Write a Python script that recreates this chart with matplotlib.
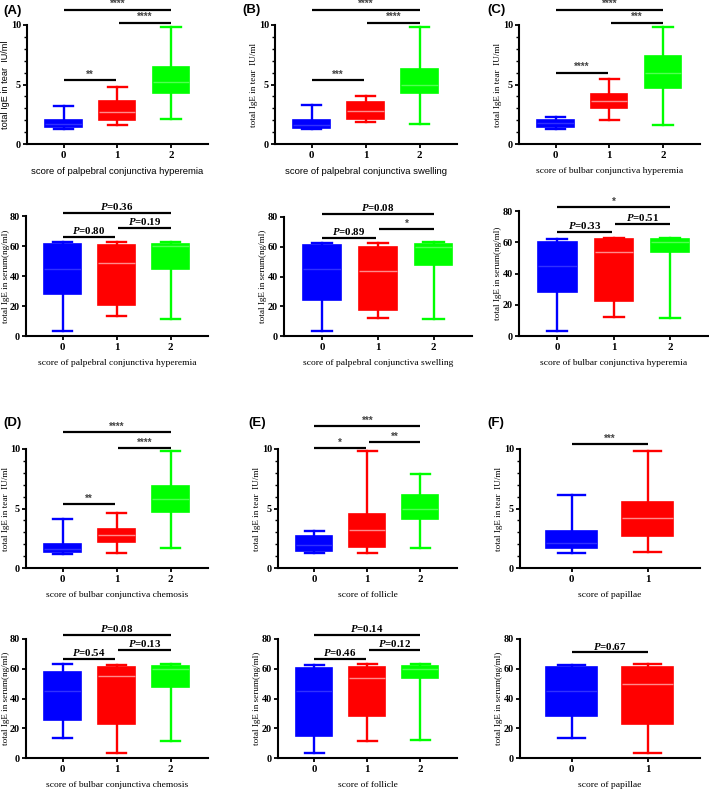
import numpy as np
import matplotlib.pyplot as plt
from matplotlib.ticker import MultipleLocator

plt.rcParams['font.family'] = 'Liberation Serif'
plt.rcParams['font.weight'] = 'bold'
plt.rcParams['mathtext.fontset'] = 'custom'
plt.rcParams['mathtext.it'] = 'Liberation Serif:italic:bold'
plt.rcParams['mathtext.rm'] = 'Liberation Serif:bold'

# five-number summaries per group: [whisker low, q1, median, q3, whisker high]
tear_A = [[1.3, 1.4, 1.7, 2.05, 3.2], [1.6, 2.0, 2.7, 3.6, 4.8], [2.1, 4.3, 5.2, 6.5, 9.8]]
tear_B = [[1.25, 1.35, 1.6, 2.0, 3.3], [1.85, 2.1, 2.8, 3.5, 4.0], [1.7, 4.3, 5.0, 6.3, 9.8]]
tear_C = [[1.25, 1.45, 1.75, 2.05, 2.3], [2.0, 3.0, 3.65, 4.2, 5.5], [1.6, 4.7, 6.0, 7.4, 9.8]]
tear_D = [[1.2, 1.35, 1.6, 2.0, 4.1], [1.3, 2.15, 2.75, 3.25, 4.6], [1.65, 4.7, 5.8, 6.85, 9.8]]
tear_E = [[1.25, 1.45, 1.9, 2.7, 3.1], [1.3, 1.8, 3.2, 4.5, 9.8], [1.65, 4.1, 5.0, 6.1, 7.9]]
tear_F = [[1.25, 1.65, 2.1, 3.1, 6.1], [1.35, 2.7, 4.2, 5.55, 9.8]]

serum_A = [[3.5, 28, 45, 61.5, 62.5], [13.5, 21, 48.5, 61, 63], [11.5, 45, 60, 61.5, 63]]
serum_B = [[3.5, 24.5, 45, 61, 62.5], [12, 17.5, 43.5, 60, 62.5], [11.5, 48, 60, 62, 63.5]]
serum_C = [[3.5, 28, 45, 60, 62], [12, 22.5, 54, 62, 63], [11.5, 54, 60, 62, 62.5]]
serum_D = [[13.5, 25.5, 45, 57.5, 63], [3.5, 23, 55, 61, 62.5], [11.5, 48, 60, 62, 63.5]]
serum_E = [[3.5, 15, 45, 60.5, 62.5], [11.5, 28, 53.5, 61, 63], [12, 53.5, 60, 62, 63.5]]
serum_F = [[13.5, 28.5, 45, 61, 62.5], [3.5, 23, 50, 61.5, 63]]

# comparisons: (group i, group j, label)
sig_A_tear = [(0, 1, '**'), (1, 2, '****'), (0, 2, '****')]
sig_B_tear = [(0, 1, '***'), (1, 2, '****'), (0, 2, '****')]
sig_C_tear = [(0, 1, '****'), (1, 2, '***'), (0, 2, '****')]
sig_D_tear = [(0, 1, '**'), (1, 2, '****'), (0, 2, '****')]
sig_E_tear = [(0, 1, '*'), (1, 2, '**'), (0, 2, '***')]
sig_F_tear = [(0, 1, '***')]
sig_A_serum = [(0, 1, 'P=0.80'), (1, 2, 'P=0.19'), (0, 2, 'P=0.36')]
sig_B_serum = [(0, 1, 'P=0.89'), (1, 2, '*'), (0, 2, 'P=0.08')]
sig_C_serum = [(0, 1, 'P=0.33'), (1, 2, 'P=0.51'), (0, 2, '*')]
sig_D_serum = [(0, 1, 'P=0.54'), (1, 2, 'P=0.13'), (0, 2, 'P=0.08')]
sig_E_serum = [(0, 1, 'P=0.46'), (1, 2, 'P=0.12'), (0, 2, 'P=0.14')]
sig_F_serum = [(0, 1, 'P=0.67')]

xlabels = ['score of palpebral conjunctiva hyperemia', 'score of palpebral conjunctiva swelling',
           'score of bulbar conjunctiva hyperemia', 'score of bulbar conjunctiva chemosis',
           'score of follicle', 'score of papillae']
tear_ylabel = 'total IgE in tear  IU/ml'
serum_ylabel = 'total IgE in serum(ng/ml)'

colors = ['#0000ff', '#ff0000', '#00ff00']
med_colors = ['#3030ff', '#ff8a8a', '#50ff50']

W, H = 709, 790
fig = plt.figure(figsize=(W / 100, H / 100), dpi=100)


def px_axes(left, top, right, bottom):
    return fig.add_axes([left / W, 1 - bottom / H, (right - left) / W, (bottom - top) / H])


def draw(rect, stats, sigs, bar_y, ymax, step, minor, xlabel, ylabel, xl_sans=False, yl_sans=False):
    ax = px_axes(*rect)
    n = len(stats)
    st = [dict(whislo=s[0], q1=s[1], med=s[2], q3=s[3], whishi=s[4]) for s in stats]
    res = ax.bxp(st, positions=range(n), widths=0.68, capwidths=0.36, patch_artist=True,
                 showfliers=False)
    for i in range(n):
        res['boxes'][i].set(facecolor=colors[i], edgecolor=colors[i], linewidth=1.2)
        res['medians'][i].set(color=med_colors[i], linewidth=1.0)
        for k in (2 * i, 2 * i + 1):
            res['whiskers'][k].set(color=colors[i], linewidth=1.7)
            res['caps'][k].set(color=colors[i], linewidth=1.7)
    ax.set_xlim(-0.68, n - 1 + 0.69)
    ax.set_ylim(0, ymax)
    ax.set_yticks(np.arange(0, ymax + 0.1, step))
    if minor:
        ax.yaxis.set_minor_locator(MultipleLocator(minor))
    ax.set_xticks(range(n))
    ax.set_xticklabels([str(i) for i in range(n)])
    for s in ('top', 'right'):
        ax.spines[s].set_visible(False)
    for s in ('left', 'bottom'):
        ax.spines[s].set_linewidth(1.5)
    ax.tick_params(width=1.3, length=3.2, labelsize=7.8, pad=2)
    ax.tick_params(axis='y', pad=1, labelsize=7.3)
    ax.tick_params(which='minor', width=1.0, length=2)
    ax.set_xlabel(xlabel, fontsize=6.8, labelpad=5,
                  family='Liberation Sans' if xl_sans else 'Liberation Serif')
    ax.set_ylabel(ylabel, fontsize=6.6, labelpad=1,
                  family='Liberation Sans' if yl_sans else 'Liberation Serif')
    if rect[0] < 30:
        # keep the left column labels inside the figure edge
        ax.yaxis.set_label_coords((9.6 - rect[0]) / (rect[2] - rect[0]), 0.5)
    for (i, j, lab), y in zip(sigs, bar_y):
        x0, x1 = i, j
        if n == 3 and (i, j) == (0, 1):
            x1 = 0.97
        if n == 3 and (i, j) == (1, 2):
            x0 = 1.03
        ax.plot([x0, x1], [y, y], color='black', linewidth=1.6, clip_on=False,
                solid_capstyle='butt')
        if lab.startswith('P'):
            ax.annotate('$P$=' + lab[2:], xy=((x0 + x1) / 2, y), xytext=(0, 0.5),
                        textcoords='offset points', ha='center', va='bottom',
                        fontsize=7.8, annotation_clip=False)
        else:
            ax.annotate(lab, xy=((x0 + x1) / 2, y), xytext=(0, 0.2),
                        textcoords='offset points', ha='center', va='bottom',
                        fontsize=7, color='#444444', family='Liberation Sans',
                        annotation_clip=False)
    return ax


tear_bars3 = [5.4, 10.2, 11.3]
serum_bars3 = [66, 72, 82]

draw((27, 25, 208, 144), tear_A, sig_A_tear, tear_bars3, 10, 5, 1, xlabels[0], tear_ylabel, True, True)
draw((275, 25, 457, 144), tear_B, sig_B_tear, tear_bars3, 10, 5, 1, xlabels[1], tear_ylabel, True)
draw((519, 25, 700, 144), tear_C, sig_C_tear, [6.0, 10.2, 11.3], 10, 5, 1, xlabels[2], tear_ylabel)
draw((26, 216, 208, 336), serum_A, sig_A_serum, serum_bars3, 80, 20, None, xlabels[0], serum_ylabel)
draw((284, 217, 472, 336), serum_B, sig_B_serum, serum_bars3, 80, 20, None, xlabels[1], serum_ylabel)
draw((519, 211, 709, 336), serum_C, sig_C_serum, [66.5, 72, 82.6], 80, 20, None, xlabels[2], serum_ylabel)

draw((26, 449, 208, 568), tear_D, sig_D_tear, [5.4, 10.1, 11.4], 10, 5, 1, xlabels[3], tear_ylabel)
draw((278, 449, 457, 568), tear_E, sig_E_tear, [10.1, 10.6, 11.9], 10, 5, 1, xlabels[4], tear_ylabel)
draw((520, 449, 700, 568), tear_F, sig_F_tear, [10.4], 10, 5, 1, xlabels[5], tear_ylabel)
draw((26, 639, 208, 758), serum_D, sig_D_serum, [66.5, 72.5, 83], 80, 20, None, xlabels[3], serum_ylabel)
draw((278, 639, 457, 758), serum_E, sig_E_serum, [66.5, 72.5, 83], 80, 20, None, xlabels[4], serum_ylabel)
draw((520, 639, 700, 758), serum_F, sig_F_serum, [71], 80, 20, None, xlabels[5], serum_ylabel)

for lab, x, y in [('(A)', 3, 11), ('(B)', 242, 10), ('(C)', 487, 10),
                  ('(D)', 3, 423), ('(E)', 248, 423), ('(F)', 487, 423)]:
    fig.text(x / W, 1 - y / H, lab, fontsize=9.5, family='Liberation Sans',
             weight='bold', ha='left', va='center')

fig.savefig('out.png', dpi=100)
